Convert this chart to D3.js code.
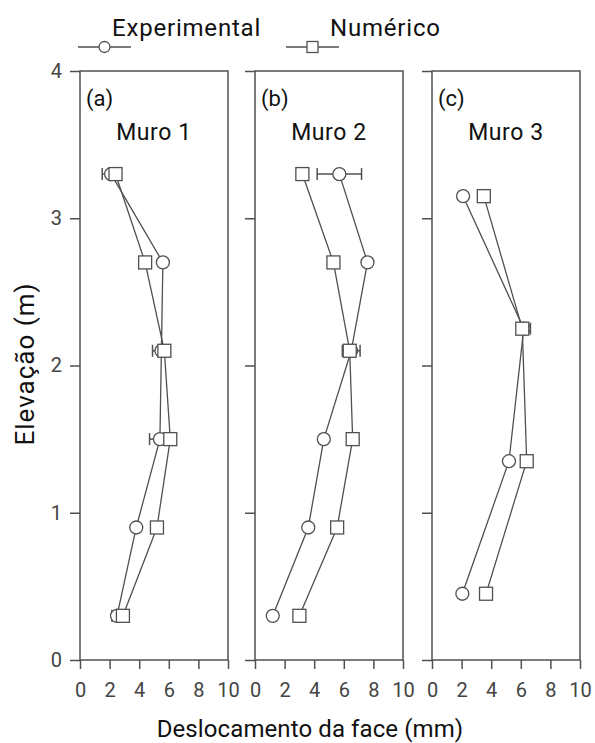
<!DOCTYPE html>
<html>
<head>
<meta charset="utf-8">
<script src="https://cdn.jsdelivr.net/npm/d3@7"></script>
<style>
  body { margin: 0; background: #fff; }
  text { font-family: Roboto, "Noto Sans", sans-serif; }
</style>
</head>
<body>
<svg id="chart" width="595" height="743"></svg>
<script>
// elevations (m) and face displacement (mm)
const elev1 = [3.3, 2.7, 2.1, 1.5, 0.9, 0.3];
const exp1 = [2.1, 5.6, 5.5, 5.4, 3.8, 2.5];
const err1 = [0.6, 0, 0.6, 0.7, 0, 0.35];
const num1 = [2.4, 4.4, 5.7, 6.1, 5.2, 2.9];

const elev2 = [3.3, 2.7, 2.1, 1.5, 0.9, 0.3];
const exp2 = [5.7, 7.6, 6.5, 4.65, 3.6, 1.2];
const err2 = [1.5, 0, 0.6, 0, 0, 0];
const num2 = [3.2, 5.3, 6.4, 6.6, 5.55, 3.0];

const elev3 = [3.15, 2.25, 1.35, 0.45];
const exp3 = [2.1, 6.2, 5.2, 2.05];
const err3 = [0, 0.45, 0, 0];
const num3 = [3.5, 6.1, 6.4, 3.65];

const panelLetters = ["(a)", "(b)", "(c)"];
const panelTitles = ["Muro 1", "Muro 2", "Muro 3"];
const xTicks = [0, 2, 4, 6, 8, 10];
const yTicks = [0, 1, 2, 3, 4];
const legendLabels = ["Experimental", "Numérico"];

const panels = [
  { elev: elev1, exp: exp1, err: err1, num: num1 },
  { elev: elev2, exp: exp2, err: err2, num: num2 },
  { elev: elev3, exp: exp3, err: err3, num: num3 },
];

const svg = d3.select("#chart");
const ink = "#505050";
const panelLeft = [80, 255, 432];
const panelW = 148;
const plotTop = 71, plotBottom = 660;

const y = d3.scaleLinear().domain([0, 4]).range([plotBottom, plotTop]);

panels.forEach((p, i) => {
  const x = d3.scaleLinear().domain([0, 10]).range([panelLeft[i], panelLeft[i] + panelW]);
  const g = svg.append("g");

  // frame
  g.append("rect")
    .attr("x", x(0)).attr("y", y(4))
    .attr("width", x(10) - x(0)).attr("height", y(0) - y(4))
    .attr("fill", "none").attr("stroke", ink).attr("stroke-width", 1.5);

  // axes
  const xa = g.append("g").attr("transform", `translate(0,${plotBottom})`)
    .call(d3.axisBottom(x).tickValues(xTicks).tickSize(9).tickPadding(14));
  const ya = g.append("g").attr("transform", `translate(${x(0)},0)`)
    .call(d3.axisLeft(y).tickValues(yTicks).tickSize(10).tickPadding(8)
      .tickFormat(i === 0 ? d3.format("d") : () => ""));
  [xa, ya].forEach(a => {
    a.select(".domain").remove();
    a.selectAll("line").attr("stroke", ink).attr("stroke-width", 1.5);
    a.selectAll("text").attr("fill", "#444").attr("font-size", 20)
      .attr("font-family", "Roboto, sans-serif");
  });

  // panel labels
  g.append("text").attr("x", x(0) + 6).attr("y", 106)
    .attr("font-size", 22).attr("fill", "#111").text(panelLetters[i]);
  g.append("text").attr("x", x(5)).attr("y", 140)
    .attr("text-anchor", "middle").attr("font-size", 23)
    .attr("letter-spacing", 0.6).attr("fill", "#111")
    .text(panelTitles[i]);

  const line = d3.line().x(d => x(d[0])).y(d => y(d[1]));
  const expPts = p.exp.map((v, j) => [v, p.elev[j]]);
  const numPts = p.num.map((v, j) => [v, p.elev[j]]);

  g.append("path").attr("d", line(expPts)).attr("fill", "none")
    .attr("stroke", ink).attr("stroke-width", 1.3);
  g.append("path").attr("d", line(numPts)).attr("fill", "none")
    .attr("stroke", ink).attr("stroke-width", 1.3);

  // error bars on experimental
  const eb = g.selectAll(".eb").data(expPts.map((d, j) => [d[0], d[1], p.err[j]]).filter(d => d[2] > 0))
    .join("g").attr("stroke", ink).attr("stroke-width", 1.5);
  eb.append("line").attr("x1", d => x(d[0] - d[2])).attr("x2", d => x(d[0] + d[2]))
    .attr("y1", d => y(d[1])).attr("y2", d => y(d[1]));
  eb.append("line").attr("x1", d => x(d[0] - d[2])).attr("x2", d => x(d[0] - d[2]))
    .attr("y1", d => y(d[1]) - 6).attr("y2", d => y(d[1]) + 6);
  eb.append("line").attr("x1", d => x(d[0] + d[2])).attr("x2", d => x(d[0] + d[2]))
    .attr("y1", d => y(d[1]) - 6).attr("y2", d => y(d[1]) + 6);

  g.selectAll(".circ").data(expPts).join("circle")
    .attr("cx", d => x(d[0])).attr("cy", d => y(d[1])).attr("r", 6.5)
    .attr("fill", "#fff").attr("stroke", ink).attr("stroke-width", 1.3);
  g.selectAll(".sq").data(numPts).join("rect")
    .attr("x", d => x(d[0]) - 6.5).attr("y", d => y(d[1]) - 6.5)
    .attr("width", 13).attr("height", 13)
    .attr("fill", "#fff").attr("stroke", ink).attr("stroke-width", 1.3);
});

// legend
const leg = svg.append("g");
const legY = 47;
[[78, 131, "circle", 112], [286, 339, "square", 330]].forEach(([x1, x2, shape, tx], k) => {
  leg.append("line").attr("x1", x1).attr("x2", x2).attr("y1", legY).attr("y2", legY)
    .attr("stroke", ink).attr("stroke-width", 1.5);
  const cx = (x1 + x2) / 2;
  if (shape === "circle") {
    leg.append("circle").attr("cx", cx).attr("cy", legY).attr("r", 5.5)
      .attr("fill", "#fff").attr("stroke", ink).attr("stroke-width", 1.3);
  } else {
    leg.append("rect").attr("x", cx - 5.5).attr("y", legY - 5.5).attr("width", 11).attr("height", 11)
      .attr("fill", "#fff").attr("stroke", ink).attr("stroke-width", 1.3);
  }
  leg.append("text").attr("x", tx).attr("y", 36).attr("font-size", 24)
    .attr("letter-spacing", 0.8).attr("fill", "#111")
    .text(legendLabels[k]);
});

// axis titles
svg.append("text").attr("x", 310).attr("y", 737).attr("text-anchor", "middle")
  .attr("font-size", 24).attr("letter-spacing", 0.1)
  .attr("fill", "#111").text("Deslocamento da face (mm)");
svg.append("text").attr("transform", "translate(34,364) rotate(-90)")
  .attr("text-anchor", "middle").attr("font-size", 26)
  .attr("letter-spacing", 1).attr("fill", "#111")
  .text("Elevação (m)");
</script>
</body>
</html>
